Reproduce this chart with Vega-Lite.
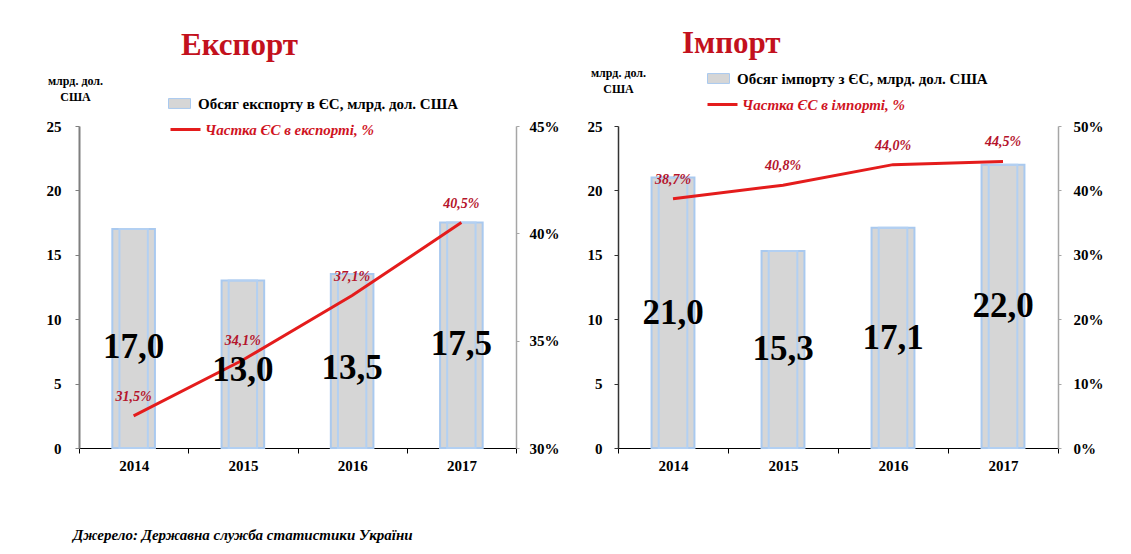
{
  "$schema": "https://vega.github.io/schema/vega-lite/v6.json",
  "background": "white",
  "padding": {"left": 46, "top": 28, "right": 5, "bottom": 5},
  "config": {
    "locale": {"number": {"decimal": ",", "thousands": " ", "grouping": [3], "currency": ["", ""]}},
    "font": "Liberation Serif",
    "view": {"stroke": null},
    "axis": {"labelFont": "Liberation Serif", "labelFontWeight": "bold", "labelFontSize": 15, "labelColor": "#000", "titleFont": "Liberation Serif", "grid": false},
    "concat": {"spacing": 28}
  },
  "title": {"text": "Джерело: Державна служба статистики України", "orient": "bottom", "anchor": "start", "fontSize": 15, "fontStyle": "italic", "fontWeight": "bold", "font": "Liberation Serif", "color": "#000", "dx": 27, "offset": 55},
  "datasets": {
    "export": [
      {"year": "2014", "value": 17.0, "share": 0.315},
      {"year": "2015", "value": 13.0, "share": 0.341},
      {"year": "2016", "value": 13.5, "share": 0.371},
      {"year": "2017", "value": 17.5, "share": 0.405}
    ],
    "import": [
      {"year": "2014", "value": 21.0, "share": 0.387},
      {"year": "2015", "value": 15.3, "share": 0.408},
      {"year": "2016", "value": 17.1, "share": 0.440},
      {"year": "2017", "value": 22.0, "share": 0.445}
    ]
  },
  "resolve": {"scale": {"color": "independent", "stroke": "independent"}, "legend": {"color": "independent", "stroke": "independent"}},
  "hconcat": [
    {
      "width": 437, "height": 322,
      "data": {"name": "export"},
      "title": {"text": "Експорт", "anchor": "start", "frame": "group", "dx": 102, "fontSize": 31, "fontWeight": "bold", "color": "#c3111d", "font": "Liberation Serif", "offset": 12},
      "encoding": {"x": {"field": "year", "type": "ordinal", "scale": {"paddingInner": 0, "paddingOuter": 0}, "axis": {"title": null, "labelAngle": 0, "domainColor": "#000", "tickColor": "#000", "tickBand": "extent", "tickSize": 5, "labelPadding": 5}}},
      "layer": [
        {
          "mark": {"type": "bar", "width": {"band": 0.39}, "stroke": "#a9c9ef", "strokeWidth": 2},
          "encoding": {
            "y": {"field": "value", "type": "quantitative", "scale": {"domain": [0, 25]}, "axis": {"orient": "left", "values": [0, 5, 10, 15, 20, 25], "title": ["млрд. дол.", "США"], "titleAngle": 0, "titleAlign": "center", "titleBaseline": "middle", "titleX": -4, "titleY": -46, "titleFontSize": 12, "titleFontWeight": "bold", "titleLineHeight": 16, "domainColor": "#7f7f7f", "domainWidth": 2, "tickColor": "#7f7f7f", "tickSize": 4, "labelPadding": 14}},
            "color": {"datum": "Обсяг експорту в ЄС, млрд. дол. США", "type": "nominal", "scale": {"range": ["#d6d6d6"]}, "legend": {"orient": "none", "legendX": 89, "legendY": -34, "title": null, "symbolType": "M-1,-0.45H1V0.45H-1Z", "symbolSize": 484, "symbolStrokeColor": "#a9c9ef", "symbolStrokeWidth": 1, "labelFont": "Liberation Serif", "labelFontSize": 15, "labelFontWeight": "bold", "labelColor": "#000", "labelLimit": 400, "labelOffset": 7, "padding": 0}}
          }
        },
        {
          "mark": {"type": "bar", "width": {"band": 0.26}, "fillOpacity": 0, "stroke": "#b3d0f2", "strokeWidth": 2},
          "encoding": {
            "y": {"field": "value", "type": "quantitative", "scale": {"domain": [0, 25]}, "axis": null}
          }
        },
        {
          "mark": {"type": "line", "strokeWidth": 3},
          "encoding": {
            "y": {"field": "share", "type": "quantitative", "scale": {"domain": [0.30, 0.45]}, "axis": {"orient": "right", "values": [0.30, 0.35, 0.40, 0.45], "format": ".0%", "title": null, "domainColor": "#a6a6a6", "domainWidth": 1.5, "tickColor": "#a6a6a6", "tickSize": 3, "labelPadding": 10}},
            "stroke": {"datum": "Частка ЄС в експорті, %", "type": "nominal", "scale": {"range": ["#e41c1c"]}, "legend": {"orient": "none", "legendX": 90, "legendY": -13, "title": null, "symbolType": "stroke", "symbolSize": 900, "symbolStrokeWidth": 3, "labelFont": "Liberation Serif", "labelFontSize": 15, "labelFontWeight": "bold", "labelFontStyle": "italic", "labelColor": "#d0141f", "labelLimit": 400, "labelOffset": 3, "padding": 0}}
          }
        },
        {
          "mark": {"type": "text", "fontSize": 35, "fontWeight": "bold", "font": "Liberation Serif", "baseline": "middle", "color": "#000"},
          "encoding": {
            "y": {"field": "value", "type": "quantitative", "scale": {"domain": [0, 54]}, "axis": null},
            "text": {"field": "value", "type": "quantitative", "format": ".1f"}
          }
        },
        {
          "mark": {"type": "text", "fontSize": 14, "fontWeight": "bold", "fontStyle": "italic", "font": "Liberation Serif", "baseline": "middle", "color": "#b5142b", "dy": -19},
          "encoding": {
            "y": {"field": "share", "type": "quantitative", "scale": {"domain": [0.30, 0.45]}, "axis": null},
            "text": {"field": "share", "type": "quantitative", "format": ".1%"}
          }
        }
      ],
      "resolve": {"scale": {"y": "independent"}}
    },
    {
      "width": 440, "height": 322,
      "data": {"name": "import"},
      "title": {"text": "Імпорт", "anchor": "start", "frame": "group", "dx": 64, "fontSize": 31, "fontWeight": "bold", "color": "#c3111d", "font": "Liberation Serif", "offset": 6},
      "encoding": {"x": {"field": "year", "type": "ordinal", "scale": {"paddingInner": 0, "paddingOuter": 0}, "axis": {"title": null, "labelAngle": 0, "domainColor": "#000", "tickColor": "#000", "tickBand": "extent", "tickSize": 5, "labelPadding": 5}}},
      "layer": [
        {
          "mark": {"type": "bar", "width": {"band": 0.39}, "stroke": "#a9c9ef", "strokeWidth": 2},
          "encoding": {
            "y": {"field": "value", "type": "quantitative", "scale": {"domain": [0, 25]}, "axis": {"orient": "left", "values": [0, 5, 10, 15, 20, 25], "title": ["млрд. дол.", "США"], "titleAngle": 0, "titleAlign": "center", "titleBaseline": "middle", "titleX": 0, "titleY": -54, "titleFontSize": 12, "titleFontWeight": "bold", "titleLineHeight": 16, "domainColor": "#333", "domainWidth": 1.5, "tickColor": "#333", "tickSize": 4, "labelPadding": 12}},
            "color": {"datum": "Обсяг імпорту з ЄС, млрд. дол. США", "type": "nominal", "scale": {"range": ["#d6d6d6"]}, "legend": {"orient": "none", "legendX": 89, "legendY": -59, "title": null, "symbolType": "M-1,-0.45H1V0.45H-1Z", "symbolSize": 484, "symbolStrokeColor": "#a9c9ef", "symbolStrokeWidth": 1, "labelFont": "Liberation Serif", "labelFontSize": 15, "labelFontWeight": "bold", "labelColor": "#000", "labelLimit": 400, "labelOffset": 7, "padding": 0}}
          }
        },
        {
          "mark": {"type": "bar", "width": {"band": 0.26}, "fillOpacity": 0, "stroke": "#b3d0f2", "strokeWidth": 2},
          "encoding": {
            "y": {"field": "value", "type": "quantitative", "scale": {"domain": [0, 25]}, "axis": null}
          }
        },
        {
          "mark": {"type": "line", "strokeWidth": 3},
          "encoding": {
            "y": {"field": "share", "type": "quantitative", "scale": {"domain": [0, 0.5]}, "axis": {"orient": "right", "values": [0, 0.1, 0.2, 0.3, 0.4, 0.5], "format": ".0%", "title": null, "domainColor": "#a6a6a6", "domainWidth": 1.5, "tickColor": "#a6a6a6", "tickSize": 3, "labelPadding": 12}},
            "stroke": {"datum": "Частка ЄС в імпорті, %", "type": "nominal", "scale": {"range": ["#e41c1c"]}, "legend": {"orient": "none", "legendX": 88, "legendY": -38, "title": null, "symbolType": "stroke", "symbolSize": 900, "symbolStrokeWidth": 3, "labelFont": "Liberation Serif", "labelFontSize": 15, "labelFontWeight": "bold", "labelFontStyle": "italic", "labelColor": "#d0141f", "labelLimit": 400, "labelOffset": 3, "padding": 0}}
          }
        },
        {
          "mark": {"type": "text", "fontSize": 35, "fontWeight": "bold", "font": "Liberation Serif", "baseline": "middle", "color": "#000"},
          "encoding": {
            "y": {"field": "value", "type": "quantitative", "scale": {"domain": [0, 50]}, "axis": null},
            "text": {"field": "value", "type": "quantitative", "format": ".1f"}
          }
        },
        {
          "mark": {"type": "text", "fontSize": 14, "fontWeight": "bold", "fontStyle": "italic", "font": "Liberation Serif", "baseline": "middle", "color": "#b5142b", "dy": -19},
          "encoding": {
            "y": {"field": "share", "type": "quantitative", "scale": {"domain": [0, 0.5]}, "axis": null},
            "text": {"field": "share", "type": "quantitative", "format": ".1%"}
          }
        }
      ],
      "resolve": {"scale": {"y": "independent"}}
    }
  ]
}
